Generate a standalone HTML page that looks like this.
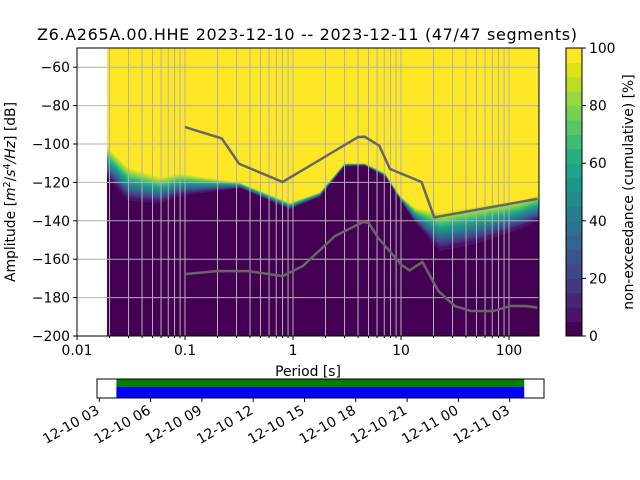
<!DOCTYPE html>
<html><head><meta charset="utf-8"><style>
html,body{margin:0;padding:0;background:#fff;}
svg{display:block;font-family:"DejaVu Sans","Liberation Sans",sans-serif;}
</style></head><body>
<svg id="chart" width="640" height="480" viewBox="0 0 640 480" xmlns="http://www.w3.org/2000/svg">
<text x="307" y="40" font-size="16" text-anchor="middle" textLength="540">Z6.A265A.00.HHE   2023-12-10 -- 2023-12-11  (47/47 segments)</text>
<g id="plot"></g>
<g id="cbar"></g>
<g id="timeline"></g>
</svg>
<script>
// ---- data ----
const periods   = [0.019, 0.0297, 0.0587, 0.0898, 0.324, 0.935, 1.78, 3.0, 4.6, 7.1, 9.8, 13.5, 22.9, 53.3, 123, 187];
const yellowDb  = [-100.9, -111.7, -116.9, -115, -120, -130.5, -125, -110, -110, -115, -127, -133, -135, -131.6, -129, -126];
const darkDb    = [-117.5, -129.5, -131, -127, -123, -134, -127.5, -111.7, -111.3, -117, -129, -141, -155.8, -151.5, -144.5, -140];
const hnmPeriods = [0.1, 0.219, 0.317, 0.80, 4.0, 4.6, 6.3, 7.9, 15.5, 20.3, 183];
const hnmDb      = [-91.2, -97.1, -110.3, -119.8, -96.4, -96.2, -100.9, -113, -119.8, -138.2, -128.6];
const lnmPeriods = [0.1, 0.197, 0.385, 0.80, 1.23, 2.44, 4.45, 5.0, 6.2, 10.2, 12.0, 15.8, 22.2, 31.5, 44.6, 72, 101.4, 145, 183];
const lnmDb      = [-167.8, -166.2, -166.2, -168.8, -163.6, -148, -140.6, -141, -149.2, -163.2, -165.8, -161.5, -176.6, -184.4, -187, -187, -184.4, -184.4, -185.2];
const xTickVals = [0.01, 0.1, 1, 10, 100];
const xTickLabels = ["0.01", "0.1", "1", "10", "100"];
const yTickVals = [-60, -80, -100, -120, -140, -160, -180, -200];
const cbarTicks = [0, 20, 40, 60, 80, 100];
const timeTickLabels = ["12-10 03","12-10 06","12-10 09","12-10 12","12-10 15","12-10 18","12-10 21","12-11 00","12-11 03"];
const timeTickHours = [3, 6, 9, 12, 15, 18, 21, 24, 27];
const segStartHour = 4.0, segEndHour = 27.85;
// ---- layout ----
const L=77, R=539, T=48, B=336;
const X = p => L + (Math.log10(p) + 2) * 108;
const Y = db => B - (db + 200) * (B - T) / 150;
const NS = "http://www.w3.org/2000/svg";
function mk(tag, attrs, parent){ const e=document.createElementNS(NS,tag); for(const k in attrs) e.setAttribute(k,attrs[k]); parent.appendChild(e); return e; }
const viridis = ["#440154","#481467","#482576","#453781","#3f4788","#39558c","#32648e","#2d718e","#287d8e","#238a8d","#1f968b","#20a386","#29af7f","#3dbc74","#56c667","#75d054","#95d840","#bade28","#dde318","#fde725"];
const plot = document.getElementById('plot');
mk('defs',{},plot).innerHTML = '<clipPath id="clipAx"><rect x="'+L+'" y="'+T+'" width="'+(R-L)+'" height="'+(B-T)+'"/></clipPath>';
const img = mk('g',{'clip-path':'url(#clipAx)'},plot);


const x0 = X(periods[0]);
mk('rect',{x:x0,y:T,width:R-x0,height:B-T,fill:viridis[19]},img);
for(let k=18;k>=0;k--){
  const f = (k+1)/20;
  let pts = periods.map((p,i)=>X(p)+','+Y(yellowDb[i] - (yellowDb[i]-darkDb[i])*(1-f) ));
  if(k===0) pts = periods.map((p,i)=>X(p)+','+Y(darkDb[i]));
  const poly = mk('polygon',{points: x0+','+B+' '+pts.join(' ')+' '+(R+5)+','+Y(darkDb[darkDb.length-1])+' '+(R+5)+','+B, fill:viridis[k]},img);
  
  
}
const grid = mk('g',{stroke:'#b0b0b0','stroke-width':1},plot);


for(let d=-2; d<=2; d++){ for(let m=1;m<=9;m++){ const p=m*Math.pow(10,d); const x=X(p); if(x>=L&&x<=R) mk('line',{x1:x,x2:x,y1:T,y2:B},grid);} }
yTickVals.forEach(v=>mk('line',{x1:L,x2:R,y1:Y(v),y2:Y(v)},grid));
function line(ps, ds, name){ const pl=mk('polyline',{points:ps.map((p,i)=>X(p)+','+Y(ds[i])).join(' '),fill:'none',stroke:'#666','stroke-width':2.5,'clip-path':'url(#clipAx)'},plot);
  
   }
line(hnmPeriods,hnmDb,'high-noise-model');
line(lnmPeriods,lnmDb,'low-noise-model');
mk('rect',{x:L,y:T,width:R-L,height:B-T,fill:'none',stroke:'#000','stroke-width':1},plot);
xTickVals.forEach((v,i)=>{ const x=X(v); mk('line',{x1:x,x2:x,y1:B,y2:B+4,stroke:'#000'},plot);
  const t=mk('text',{x:x,y:B+19,'font-size':13.9,'text-anchor':'middle'},plot); t.textContent=xTickLabels[i];
  
   });
for(let d=-2; d<=2; d++){ for(let m=2;m<=9;m++){ const x=X(m*Math.pow(10,d)); if(x<=R) mk('line',{x1:x,x2:x,y1:B,y2:B+2,stroke:'#000'},plot);} }
yTickVals.forEach(v=>{ const y=Y(v); mk('line',{x1:L-4,x2:L,y1:y,y2:y,stroke:'#000'},plot);
  const t=mk('text',{x:L-7,y:y+5,'font-size':13.9,'text-anchor':'end'},plot); t.textContent='\u2212'+Math.abs(v);
  
   });
const xl=mk('text',{x:(L+R)/2,y:376,'font-size':13.9,'text-anchor':'middle'},plot); xl.textContent='Period [s]';


const yl=mk('text',{x:0,y:0,'font-size':13.9,'text-anchor':'middle',transform:'translate(15,192) rotate(-90)'},plot);
yl.innerHTML='Amplitude [<tspan font-style="italic">m</tspan><tspan font-size="9.5" dy="-5">2</tspan><tspan dy="5">/</tspan><tspan font-style="italic">s</tspan><tspan font-size="9.5" dy="-5">4</tspan><tspan dy="5" font-style="italic">/Hz</tspan>] [dB]';


const cb=document.getElementById('cbar'); const CL=566, CR=582;
for(let k=0;k<20;k++){ const y1=B-(k+1)*(B-T)/20; mk('rect',{x:CL,y:y1,width:CR-CL,height:(B-T)/20+0.5,fill:viridis[k]},cb); }
mk('rect',{x:CL,y:T,width:CR-CL,height:B-T,fill:'none',stroke:'#000'},cb);
cbarTicks.forEach(v=>{ const y=B-v/100*(B-T); mk('line',{x1:CR,x2:CR+4,y1:y,y2:y,stroke:'#000'},cb);
  const t=mk('text',{x:CR+7,y:y+5,'font-size':13.9},cb); t.textContent=v;
  
   });
const cl=mk('text',{x:0,y:0,'font-size':13.9,'text-anchor':'middle',transform:'translate(633,192) rotate(-90)'},cb); cl.textContent='non-exceedance (cumulative) [%]';


const tl=document.getElementById('timeline'); const TL=97, TR=544, TT=379, TB=398;
const H = h => 99.3 + (h-3)*(51.3/3);
const g1=mk('rect',{x:H(segStartHour),y:TT,width:H(segEndHour)-H(segStartHour),height:8,fill:'#008000'},tl);


const b1=mk('rect',{x:H(segStartHour),y:TT+8,width:H(segEndHour)-H(segStartHour),height:TB-TT-8,fill:'#0000ff'},tl);


mk('rect',{x:TL,y:TT,width:TR-TL,height:TB-TT,fill:'none',stroke:'#000'},tl);
timeTickHours.forEach((h,i)=>{ const x=H(h); mk('line',{x1:x,x2:x,y1:TB,y2:TB+4,stroke:'#000'},tl);
  const t=mk('text',{x:0,y:0,'font-size':13.9,'text-anchor':'end',transform:'translate('+(x+1)+','+(TB+15)+') rotate(-30)'},tl); t.textContent=timeTickLabels[i];
  
   });
</script>
</body></html>
